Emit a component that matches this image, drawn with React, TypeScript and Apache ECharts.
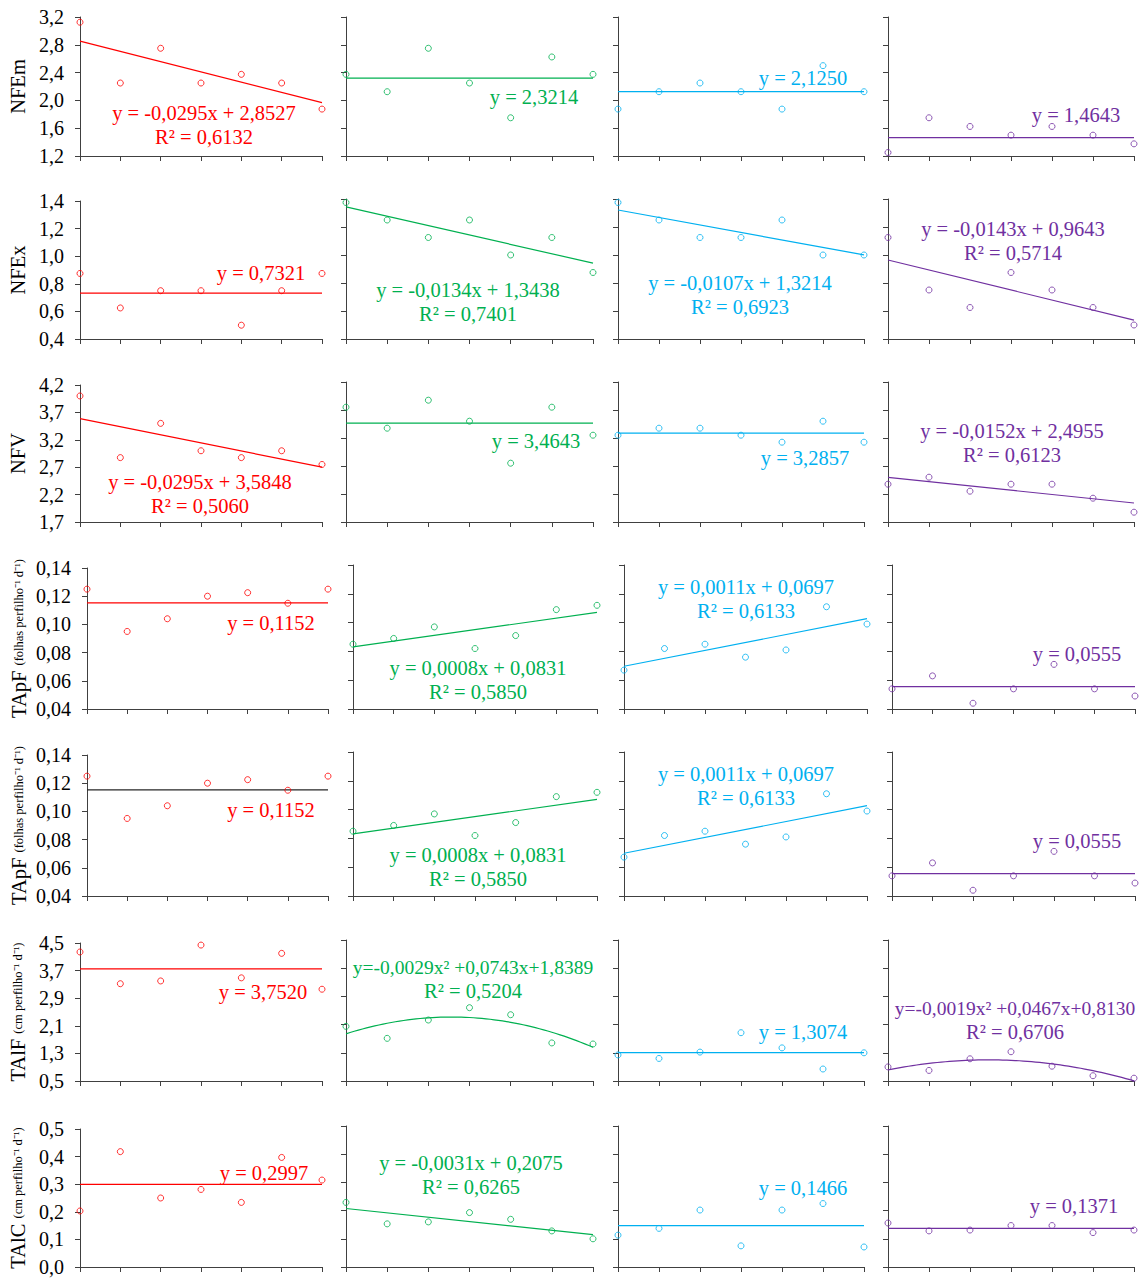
import React, { useEffect, useRef } from "react";
import * as echarts from "echarts";

// Evaluation days (x) shared by every panel
const days = [0, 5, 10, 15, 20, 25, 30];

// NFEm
const nfemA = [3.125, 2.25, 2.75, 2.25, 2.375, 2.25, 1.875];
const nfemB = [2.375, 2.125, 2.75, 2.25, 1.75, 2.625, 2.375];
const nfemC = [1.875, 2.125, 2.25, 2.125, 1.875, 2.5, 2.125];
const nfemD = [1.25, 1.75, 1.625, 1.5, 1.625, 1.5, 1.375];
const nfemFits = [[0, -0.0295, 2.8527], [0, 0, 2.3214], [0, 0, 2.125], [0, 0, 1.4643]];
const nfemEqs = [["y = -0,0295x + 2,8527", "R² = 0,6132"], ["y = 2,3214"], ["y = 2,1250"], ["y = 1,4643"]];

// NFEx
const nfexA = [0.875, 0.625, 0.75, 0.75, 0.5, 0.75, 0.875];
const nfexB = [1.375, 1.25, 1.125, 1.25, 1.0, 1.125, 0.875];
const nfexC = [1.375, 1.25, 1.125, 1.125, 1.25, 1.0, 1.0];
const nfexD = [1.125, 0.75, 0.625, 0.875, 0.75, 0.625, 0.5];
const nfexFits = [[0, 0, 0.7321], [0, -0.0134, 1.3438], [0, -0.0107, 1.3214], [0, -0.0143, 0.9643]];
const nfexEqs = [["y = 0,7321"], ["y = -0,0134x + 1,3438", "R² = 0,7401"], ["y = -0,0107x + 1,3214", "R² = 0,6923"], ["y = -0,0143x + 0,9643", "R² = 0,5714"]];

// NFV
const nfvA = [4.0, 2.875, 3.5, 3.0, 2.875, 3.0, 2.75];
const nfvB = [3.75, 3.375, 3.875, 3.5, 2.75, 3.75, 3.25];
const nfvC = [3.25, 3.375, 3.375, 3.25, 3.125, 3.5, 3.125];
const nfvD = [2.375, 2.5, 2.25, 2.375, 2.375, 2.125, 1.875];
const nfvFits = [[0, -0.0295, 3.5848], [0, 0, 3.4643], [0, 0, 3.2857], [0, -0.0152, 2.4955]];
const nfvEqs = [["y = -0,0295x + 3,5848", "R² = 0,5060"], ["y = 3,4643"], ["y = 3,2857"], ["y = -0,0152x + 2,4955", "R² = 0,6123"]];

// TApF
const tapfA = [0.125, 0.095, 0.104, 0.12, 0.1225, 0.115, 0.125];
const tapfB = [0.085, 0.089, 0.097, 0.082, 0.091, 0.109, 0.112];
const tapfC = [0.067, 0.082, 0.085, 0.076, 0.081, 0.111, 0.099];
const tapfD = [0.054, 0.063, 0.044, 0.054, 0.071, 0.054, 0.049];
const tapfFits = [[0, 0, 0.1152], [0, 0.0008, 0.0831], [0, 0.0011, 0.0697], [0, 0, 0.0555]];
const tapfEqs = [["y = 0,1152"], ["y = 0,0008x + 0,0831", "R² = 0,5850"], ["y = 0,0011x + 0,0697", "R² = 0,6133"], ["y = 0,0555"]];

// TAlF
const talfA = [4.24, 3.32, 3.4, 4.44, 3.49, 4.2, 3.16];
const talfB = [2.05, 1.71, 2.23, 2.58, 2.38, 1.58, 1.55];
const talfC = [1.24, 1.14, 1.32, 1.87, 1.44, 0.84, 1.3];
const talfD = [0.9, 0.8, 1.13, 1.33, 0.92, 0.65, 0.58];
const talfFits = [[0, 0, 3.752], [-0.0029, 0.0743, 1.8389], [0, 0, 1.3074], [-0.0019, 0.0467, 0.813]];
const talfEqs = [["y = 3,7520"], ["y=-0,0029x² +0,0743x+1,8389", "R² = 0,5204"], ["y = 1,3074"], ["y=-0,0019x² +0,0467x+0,8130", "R² = 0,6706"]];

// TAlC
const talcA = [0.203, 0.418, 0.25, 0.281, 0.234, 0.397, 0.315];
const talcB = [0.229, 0.153, 0.16, 0.193, 0.169, 0.128, 0.1];
const talcC = [0.113, 0.137, 0.202, 0.075, 0.202, 0.225, 0.071];
const talcD = [0.156, 0.128, 0.131, 0.147, 0.147, 0.122, 0.131];
const talcFits = [[0, 0, 0.2997], [0, -0.0031, 0.2075], [0, 0, 0.1466], [0, 0, 0.1371]];
const talcEqs = [["y = 0,2997"], ["y = -0,0031x + 0,2075", "R² = 0,6265"], ["y = 0,1466"], ["y = 0,1371"]];

const FONT = "'Liberation Serif', 'Times New Roman', serif";
const AXIS_COLOR = "#404040";
const seriesColors = ["#FF0000", "#00B050", "#00B0F0", "#7030A0"];

type RowDef = {
  name: string;
  unit?: string;
  min: number;
  max: number;
  step: number;
  dec: number;
  values: number[][];
  fits: number[][];
  eqs: string[][];
  lineColors?: string[];
};

const rowDefs: RowDef[] = [
  { name: "NFEm", min: 1.2, max: 3.2, step: 0.4, dec: 1, values: [nfemA, nfemB, nfemC, nfemD], fits: nfemFits, eqs: nfemEqs },
  { name: "NFEx", min: 0.4, max: 1.4, step: 0.2, dec: 1, values: [nfexA, nfexB, nfexC, nfexD], fits: nfexFits, eqs: nfexEqs },
  { name: "NFV", min: 1.7, max: 4.2, step: 0.5, dec: 1, values: [nfvA, nfvB, nfvC, nfvD], fits: nfvFits, eqs: nfvEqs },
  { name: "TApF", unit: "(folhas perfilho⁻¹ d⁻¹)", min: 0.04, max: 0.14, step: 0.02, dec: 2, values: [tapfA, tapfB, tapfC, tapfD], fits: tapfFits, eqs: tapfEqs },
  { name: "TApF", unit: "(folhas perfilho⁻¹ d⁻¹)", min: 0.04, max: 0.14, step: 0.02, dec: 2, values: [tapfA, tapfB, tapfC, tapfD], fits: tapfFits, eqs: tapfEqs, lineColors: ["#262626", "#00B050", "#00B0F0", "#7030A0"] },
  { name: "TAlF", unit: "(cm perfilho⁻¹ d⁻¹)", min: 0.5, max: 4.5, step: 0.8, dec: 1, values: [talfA, talfB, talfC, talfD], fits: talfFits, eqs: talfEqs },
  { name: "TAlC", unit: "(cm perfilho⁻¹ d⁻¹)", min: 0.0, max: 0.5, step: 0.1, dec: 1, values: [talcA, talcB, talcC, talcD], fits: talcFits, eqs: talcEqs },
];

// Panel frames (px)
const rowTopFirst = [17, 201, 385, 568, 755, 943, 1129];
const rowTopOther = [17, 199, 382, 565, 752, 940, 1126];
const rowBottom = [156, 339, 522, 709, 896, 1081, 1267];
const colLeft = [80, 346, 618, 888];
const colRight = [322, 593, 864, 1134];
const colLeftWide = [87, 353, 624, 892];
const colRightWide = [328, 597, 867, 1135];

// Equation label anchors (centre of the first line)
const eqAnchors = [
  [[204, 113], [534, 97], [803, 78], [1076, 115]],
  [[261, 273], [468, 290], [740, 283], [1013, 229]],
  [[200, 482], [536, 441], [805, 458], [1012, 431]],
  [[271, 623], [478, 668], [746, 587], [1077, 654]],
  [[271, 810], [478, 855], [746, 774], [1077, 841]],
  [[263, 992], [473, 967], [803, 1032], [1015, 1008]],
  [[264, 1173], [471, 1163], [803, 1188], [1074, 1206]],
];

function buildOption() {
  const grid: any[] = [];
  const xAxis: any[] = [];
  const yAxis: any[] = [];
  const series: any[] = [];
  const graphic: any[] = [];
  const lineStyle = { color: AXIS_COLOR, width: 1 };

  rowDefs.forEach((row, r) => {
    const wide = r === 3 || r === 4;
    for (let c = 0; c < 4; c++) {
      const k = r * 4 + c;
      const left = (wide ? colLeftWide : colLeft)[c];
      const right = (wide ? colRightWide : colRight)[c];
      const top = (c === 0 ? rowTopFirst : rowTopOther)[r];
      const bottom = rowBottom[r];
      const color = seriesColors[c];
      const lineColor = row.lineColors ? row.lineColors[c] : color;

      grid.push({ left, top, width: right - left, height: bottom - top });

      xAxis.push({
        type: "value",
        gridIndex: k,
        min: 0,
        max: 30,
        interval: 5,
        axisLine: { show: true, onZero: false, lineStyle },
        axisTick: { show: true, length: 5, lineStyle },
        axisLabel: { show: false },
        splitLine: { show: false },
      });

      // value axis used to place the marks
      yAxis.push({ type: "value", gridIndex: k, min: row.min, max: row.max, show: false });

      // ruler axis carrying ticks and tick labels
      const nSteps = Math.round((row.max - row.min) / row.step);
      const nameText = c === 0 ? (row.unit ? `{a|${row.name}} {b|${row.unit}}` : row.name) : "";
      yAxis.push({
        type: "value",
        gridIndex: k,
        position: "left",
        min: 0,
        max: nSteps,
        interval: 1,
        axisLine: { show: true, onZero: false, lineStyle },
        axisTick: { show: true, length: 5, lineStyle },
        splitLine: { show: false },
        axisLabel: {
          show: c === 0,
          margin: 16,
          fontSize: 20,
          fontFamily: FONT,
          color: "#000",
          formatter: (v: number) => (row.min + v * row.step).toFixed(row.dec).replace(".", ","),
        },
        name: nameText,
        nameLocation: "middle",
        nameGap: wide ? 58 : 52,
        nameTextStyle: {
          fontSize: 20.5,
          fontFamily: FONT,
          color: "#000",
          rich: {
            a: { fontSize: 20.5, fontFamily: FONT, color: "#000" },
            b: { fontSize: 12.5, fontFamily: FONT, color: "#000", verticalAlign: "middle" },
          },
        },
      });

      series.push({
        type: "scatter",
        xAxisIndex: k,
        yAxisIndex: 2 * k,
        data: days.map((d, i) => [d, row.values[c][i]]),
        symbol: "circle",
        symbolSize: 6,
        itemStyle: { color: "rgba(255,255,255,0)", borderColor: color, borderWidth: 1 },
        clip: false,
        silent: true,
        z: 3,
      });

      const [a2, a1, a0] = row.fits[c];
      const stepX = a2 !== 0 ? 0.5 : 30;
      const pts: number[][] = [];
      for (let x = 0; x <= 30 + 1e-9; x += stepX) pts.push([x, a2 * x * x + a1 * x + a0]);
      series.push({
        type: "line",
        xAxisIndex: k,
        yAxisIndex: 2 * k,
        data: pts,
        symbol: "none",
        showSymbol: false,
        lineStyle: { color: lineColor, width: 1.2 },
        clip: false,
        silent: true,
        z: 2,
      });

      const [cx, cy] = eqAnchors[r][c];
      const quadratic = a2 !== 0;
      row.eqs[c].forEach((txt, li) => {
        graphic.push({
          type: "text",
          x: cx,
          y: cy + li * 24,
          silent: true,
          style: {
            text: txt,
            fill: color,
            fontSize: quadratic && li === 0 ? 19.5 : 20.5,
            fontFamily: FONT,
            align: "center",
            verticalAlign: "middle",
          },
        });
      });
    }
  });

  return { animation: false, backgroundColor: "#fff", grid, xAxis, yAxis, series, graphic };
}

export default function App() {
  const ref = useRef<HTMLDivElement>(null);
  useEffect(() => {
    if (!ref.current) return;
    const chart = echarts.init(ref.current, undefined, { renderer: "svg" });
    chart.setOption(buildOption() as any);
    return () => chart.dispose();
  }, []);
  return (
    <div
      ref={ref}
      style={{ position: "absolute", left: 0, top: 0, width: 1144, height: 1282, background: "#fff" }}
    />
  );
}
